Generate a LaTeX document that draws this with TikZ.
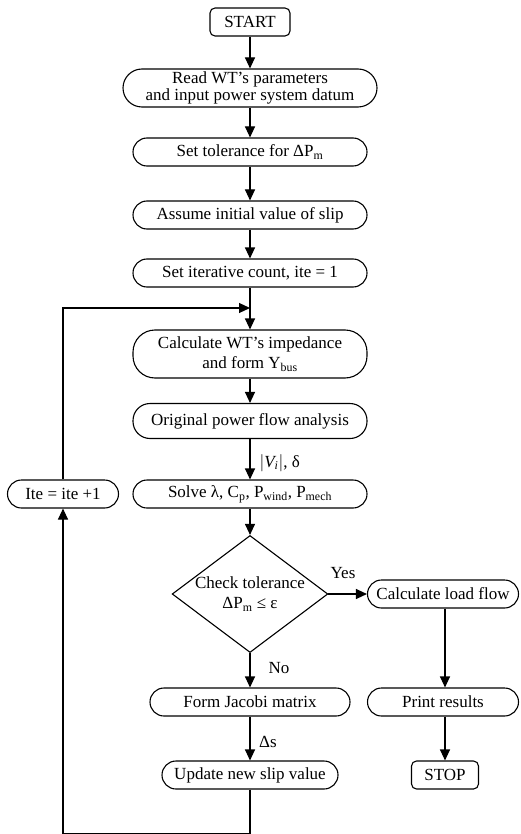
\documentclass[tikz,border=0pt]{standalone}
\usepackage{fontspec}
\setmainfont{Liberation Serif}
\usepackage{tikz}
\usetikzlibrary{positioning}
\usetikzlibrary{shapes.geometric}
\usetikzlibrary{arrows.meta}

\begin{document}
\begin{tikzpicture}[x=1pt,y=-1pt,
  every node/.style={font=\fontsize{17}{20}\selectfont},
  stadium/.style={draw, line width=1.1pt, rounded corners=14pt, minimum height=28pt, inner sep=0pt, align=center},
  termbox/.style={draw, line width=1.1pt, rounded corners=5pt, minimum height=28pt, inner sep=0pt},
  decision/.style={draw, line width=1.1pt, shape=diamond, aspect=1.33, inner sep=0pt, minimum width=154pt, minimum height=116pt, align=center},
  flow/.style={line width=1.1pt, -{Triangle[length=11pt,width=10pt]}},
  plain/.style={line width=1.1pt}]
\useasboundingbox (0,0) rectangle (520,834);

% main column
\node[termbox, minimum width=80pt] (start) at (250,22) {START};
\node[stadium, minimum width=254pt, minimum height=38pt, rounded corners=19pt] (readpar) at (250,88) {Read WT's parameters\\[-3pt]and input power system datum};
\node[stadium, minimum width=234pt] (settol) at (250,152) {Set tolerance for ΔP\textsubscript{m}};
\node[stadium, minimum width=234pt] (initslip) at (250,215) {Assume initial value of slip};
\node[stadium, minimum width=234pt] (setite) at (250,273) {Set iterative count, ite = 1};
\node[stadium, minimum width=234pt, minimum height=48pt, rounded corners=22pt] (calcY) at (250,354) {Calculate WT's impedance\\and form Y\textsubscript{bus}};
\node[stadium, minimum width=234pt, minimum height=35pt, rounded corners=17pt] (origpf) at (250,421) {Original power flow analysis};
\node[stadium, minimum width=234pt] (solvelam) at (250,494) {Solve λ, C\textsubscript{p}, P\textsubscript{wind}, P\textsubscript{mech}};
\node[decision] (chktol) at (250,594) {Check tolerance\\ΔP\textsubscript{m} ≤ ε};
\node[stadium, minimum width=200pt] (jacobi) at (250,702) {Form Jacobi matrix};
\node[stadium, minimum width=176pt] (updslip) at (250,775) {Update new slip value};

% right column
\node[stadium, minimum width=151pt] (loadflow) at (443,594) {Calculate load flow};
\node[stadium, minimum width=151pt] (prres) at (443,702) {Print results};
\node[termbox, minimum width=67pt] (stop) at (445,775) {STOP};

% left column
\node[stadium, minimum width=111pt] (iteinc) at (63,494) {Ite = ite +1};

% labels
\node[anchor=west] (vlab) at (256,463) {$\left|\mathit{V_i}\right|$, δ};
\node (yeslab) at (343,573) {Yes};
\node (nolab) at (279,668) {No};
\node (dslab) at (268,742) {Δs};

\coordinate (looptl) at (63,308);
\coordinate (looptr) at (250,308);
\coordinate (loopbl) at (63,834);
\coordinate (loopbr) at (250,834);

\draw[flow] (start) -- (readpar);
\draw[flow] (readpar) -- (settol);
\draw[flow] (settol) -- (initslip);
\draw[flow] (initslip) -- (setite);
\draw[flow] (setite) -- (calcY);
\draw[flow] (calcY) -- (origpf);
\draw[flow] (origpf) -- (solvelam);
\draw[flow] (solvelam) -- (chktol);
\draw[flow] (chktol) -- (jacobi);
\draw[flow] (jacobi) -- (updslip);
\draw[flow] (chktol.east) -- (loadflow);
\draw[flow] (loadflow.south -| stop.north) -- (prres.north -| stop.north);
\draw[flow] (prres.south -| stop.north) -- (stop);
\draw[plain] (updslip) -- (loopbr) -- (loopbl);
\draw[flow] (loopbl) -- (iteinc);
\draw[flow] (iteinc) -- (looptl) -- (looptr);

\end{tikzpicture}
\end{document}
